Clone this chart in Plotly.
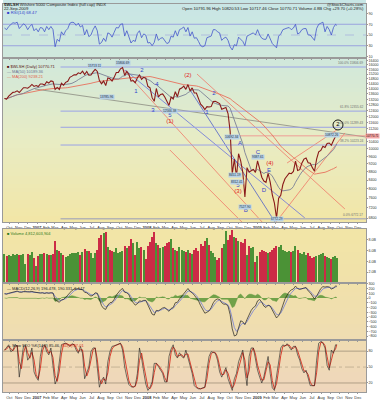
import plotly.graph_objects as go
import pandas as pd
import numpy as np

# ---------------- data (weekly samples) ----------------
week_dates = list(pd.date_range("2006-09-15", "2009-09-18", freq="W-FRI").strftime("%Y-%m-%d")) + ["2009-09-22"]

close = [
    13260, 13210, 13430, 13560, 13720, 13750, 13840, 13710, 13880, 14080, 14080, 14040, 14170, 14340, 14180, 14250,
    14170, 14380, 14380, 14290, 14560, 14450, 14630, 14580, 13940, 14100, 13940, 14430, 14280, 14510, 14600, 14920,
    15020, 15130, 15130, 15300, 15230, 15440, 15150, 15410, 15100, 15110, 15380, 15600, 15420, 14660, 14400, 14610,
    14250, 14870, 14810, 14610, 14920, 15330, 15340, 15650, 15760, 15080, 15430, 15170, 14610, 14660, 14480, 14890,
    15120, 14750, 14920, 14860,
    14190, 14080, 13320, 13050, 14020, 13380, 13560, 13600, 13370, 13000, 12750, 13360, 13220, 13770, 13390, 13970,
    14050, 14210, 13950, 14330, 13830, 14070, 13680, 13670, 13250, 12850, 12690, 12460, 12670, 12640, 12670, 13030,
    13050, 12990, 12890, 12490, 12580, 12610, 12190, 11050, 8700, 9450, 8550, 9740, 9360, 8780, 7650, 9010,
    8800, 8840, 8920, 8770,
    9360, 8950, 8540, 8360, 8300, 8730, 8310, 7740, 7390, 6800, 7600, 7720, 8200, 8470, 8610, 8740,
    8710, 8820, 9340, 8870, 8910, 9240, 9450, 9510, 9260, 9230, 9010, 8830, 9450, 9840, 9920, 10160,
    10090, 10310, 10340, 10210, 10480, 10740, 10770,
]

rsi14 = [
    63, 60, 66, 70, 73, 72, 74, 62, 66, 71, 68, 60, 66, 70, 58, 62,
    56, 64, 63, 56, 66, 60, 66, 60, 28, 42, 38, 56, 50, 58, 62, 72, 74, 73, 68, 72, 65, 68, 50, 60, 47, 50,
    60, 67, 58, 33, 36, 44, 38, 54, 52, 46, 55, 64, 63, 70, 71, 48, 58, 48, 35, 40, 38, 53, 58, 45, 52, 50,
    35, 36, 30, 36, 52, 40, 44, 45, 40, 34, 36, 48, 46, 58, 48, 60, 62, 65, 56, 64, 48, 56, 44, 45, 38, 30,
    28, 30, 45, 46, 48, 60, 60, 56, 54, 40, 44, 46, 40, 28, 22, 32, 30, 46, 42, 38, 30, 48, 50, 52, 54, 50,
    60, 50, 44, 42, 42, 52, 44, 34, 30, 26, 48, 52, 60, 62, 63, 64, 60, 63, 70, 52, 54, 60, 62, 62, 50, 50,
    44, 40, 62, 70, 72, 74, 56, 66, 60, 50, 64, 70, 68,
]

volume_b = [
    5.4, 5.0, 5.2, 5.0, 5.3, 5.1, 5.4, 5.2, 5.1, 5.3, 3.6, 5.4, 5.2, 5.8, 4.6, 3.2,
    5.0, 5.4, 5.3, 5.5, 5.4, 5.2, 5.1, 5.3, 7.8, 6.2, 6.0, 5.5, 5.2, 4.8, 5.0, 5.4, 5.6, 5.5, 5.6, 5.7, 5.2,
    5.8, 6.3, 6.0, 5.9, 5.6, 4.6, 5.6, 6.2, 8.4, 8.8, 9.2, 9.4, 6.6, 6.2, 6.0, 5.8, 6.4, 5.6, 5.8, 6.0, 6.8,
    6.4, 6.8, 8.2, 7.4, 5.2, 7.6, 6.4, 6.6, 6.2, 4.4,
    6.8, 7.6, 8.6, 9.4, 7.4, 7.0, 6.4, 6.6, 6.8, 7.4, 7.6, 8.2, 6.4, 6.2, 6.0, 6.6, 6.2, 6.0, 5.8, 6.2, 5.6,
    5.4, 6.2, 6.4, 6.0, 7.2, 6.8, 7.8, 8.4, 7.0, 6.0, 5.6, 4.8, 4.2, 4.6, 6.4, 7.2, 9.6, 8.0, 8.8, 9.8, 8.6,
    8.4, 7.8, 7.6, 7.4, 8.2, 5.2, 6.8, 6.4, 6.6, 3.8,
    5.0, 5.8, 6.2, 6.0, 5.8, 5.6, 5.8, 6.2, 6.4, 6.8, 6.6, 7.0, 6.2, 6.0, 5.8, 6.0, 5.8, 6.0, 6.8, 6.2, 5.6,
    5.4, 5.8, 5.2, 5.6, 5.0, 4.6, 4.8, 5.0, 5.2, 5.4, 5.6, 5.0, 4.8, 4.6, 4.4, 4.8, 5.0, 4.6,
]

macd_line = [
    90, 80, 100, 115, 130, 140, 145, 125, 120, 135, 140, 130, 130, 140, 125, 120,
    100, 105, 110, 95, 110, 100, 110, 105, -40, -70, -90, -40, -30, 10, 50, 110, 160, 190, 190, 200, 180,
    175, 120, 110, 70, 40, 60, 110, 100, -30, -160, -220, -240, -150, -100, -90, -30, 60, 120, 170, 200, 120,
    110, 70, -40, -100, -150, -120, -60, -70, -50, -50,
    -160, -230, -340, -360, -260, -270, -240, -210, -200, -250, -280, -220, -200, -100, -90, -20, 40, 100, 150,
    200, 140, 110, 60, 10, -60, -160, -240, -320, -300, -270, -200, -100, -40, -20, -30, -100, -130, -130, -170,
    -350, -650, -800, -780, -600, -480, -500, -560, -450, -340, -260, -200, -170,
    -60, -30, -90, -170, -200, -150, -170, -260, -330, -420, -370, -280, -150, -20, 60, 130, 170, 190, 250, 200,
    180, 200, 210, 220, 150, 110, 40, -20, 40, 130, 200, 240, 230, 240, 230, 190, 210, 250, 250,
]

stoch_k = [
    82, 86, 92, 79, 82, 92, 90, 31, 63, 89, 91, 63, 70, 86, 41, 31,
    25, 70, 90, 92, 79, 73, 86, 50, 18, 28, 57, 92, 94, 95, 92, 89, 94, 92, 82, 76, 89, 76, 28, 38, 50, 79,
    86, 86, 44, 12, 25, 31, 18, 60, 79, 89, 90, 92, 94, 95, 82, 50, 31, 17, 13, 12, 15, 38, 86, 67, 41, 18,
    6, 12, 22, 57, 57, 50, 45, 38, 22, 22, 70, 84, 92, 73, 67, 77, 70, 67, 82, 67, 50, 38, 15, 11, 9, 9,
    11, 12, 44, 70, 79, 78, 76, 63, 41, 31, 41, 49, 28, 15, 6, 28, 38, 60, 73, 82, 44, 15, 70, 86, 86, 63,
    44, 31, 20, 32, 50, 70, 38, 11, 6, 31, 57, 86, 92, 89, 94, 89, 82, 89, 89, 73, 63, 47, 39, 44, 28, 15,
    15, 15, 63, 95, 98, 95, 86, 53, 44, 82, 76, 92, 92,
]

fib_names = ["100.0%", "61.8%", "50.0%", "38.2%", "0.0%"]
fib_values = [15806.69, 12355.62, 11289.43, 10223.24, 6772.17]
fib_start = "2007-03-20"

month_ticks = list(pd.date_range("2006-10-01", "2009-12-01", freq="MS").strftime("%Y-%m-%d"))
month_labels = ["Oct", "Nov", "Dec",
                "<b>2007</b>", "Feb", "Mar", "Apr", "May", "Jun", "Jul", "Aug", "Sep", "Oct", "Nov", "Dec",
                "<b>2008</b>", "Feb", "Mar", "Apr", "May", "Jun", "Jul", "Aug", "Sep", "Oct", "Nov", "Dec",
                "<b>2009</b>", "Feb", "Mar", "Apr", "May", "Jun", "Jul", "Aug", "Sep", "Oct", "Nov", "Dec"]
price_ticks = [6800, 7200, 7600, 8000, 8400, 8800, 9200, 9600, 10000, 10400, 11200, 11600, 12000,
               12400, 12800, 13200, 13600, 14000, 14400, 14800, 15200, 15600, 16000, 16400]

# trend lines: start date, start price, end date, end price, colour
trend_lines = [
    ("2006-12-25", 13980, "2009-12-28", 10693, "#8a8a80"),
    ("2007-10-13", 15630, "2009-01-17", 6652, "#f07868"),
    ("2008-06-15", 15200, "2009-10-19", 7152, "#f07868"),
    ("2008-03-17", 9943, "2008-11-21", 6540, "#f07868"),
    ("2007-10-20", 15543, "2009-06-08", 6802, "#6a72dc"),
    ("2008-05-23", 13903, "2009-03-01", 6652, "#4f5fc8"),
    ("2009-03-01", 6600, "2009-10-19", 10935, "#f07868"),
    ("2009-04-10", 9247, "2009-09-22", 11120, "#f07868"),
]

# Elliott wave labels
wave_text = ["1", "2", "3", "4", "5", "1", "2", "5", "A", "B", "C", "D", "E",
             "(1)", "(2)", "(3)", "(4)", "(5)"]
wave_dates = ["2007-11-25", "2007-12-15", "2008-01-21", "2008-02-03", "2008-03-17", "2008-07-18", "2008-08-10",
              "2008-10-29", "2008-11-05", "2008-11-24", "2009-01-03", "2009-01-23", "2009-02-09",
              "2008-03-17", "2008-05-16", "2008-10-29", "2009-02-12", "2009-03-11"]
wave_prices = [13750, 15543, 12430, 14300, 12090, 12290, 13600, 8134, 10340, 7073, 9833, 7911, 8892,
               11630, 15115, 7866, 9196, 6520]
wave_colors = ["#3344cc"] * 13 + ["#e02020"] * 5

circled_text = ["1", "2"]
circled_dates = ["2009-03-21", "2009-09-26"]
circled_prices = [6116, 11437]

box_text = ["15713.11", "15806.69", "13785.96", "12566.38", "10692.34", "8451.19", "8312.41",
            "9387.61", "7527.90", "6772.29", "10872.26"]
box_dates = ["2007-07-12", "2007-10-13", "2007-08-21", "2008-03-17", "2008-10-09", "2008-10-19", "2008-10-26",
             "2009-01-03", "2008-11-21", "2009-03-07", "2009-09-05"]
box_prices = [15894, 16165, 13370, 12360, 10693, 8640, 8310, 9562, 7235, 6750, 10800]

# ---------------- derived ----------------
s_close = pd.Series(close)
ma50 = s_close.rolling(10, min_periods=1).mean()
ma200 = s_close.rolling(40, min_periods=1).mean()
s_macd = pd.Series(macd_line)
macd_signal = s_macd.ewm(span=3, adjust=False).mean()
macd_hist = s_macd - macd_signal
stoch_d = pd.Series(stoch_k).rolling(2, min_periods=1).mean()
vol_colors = ["#3a8a2a"] + ["#3a8a2a" if close[i] >= close[i - 1] else "#c8183c" for i in range(1, len(close))]

W, H = 380, 400
XL, XR = 3, 366


def py(p):
    return 1 - p / H


dom = {
    "rsi": [py(58), py(4)],
    "main": [py(222), py(58)],
    "vol": [py(283), py(229)],
    "macd": [py(340), py(283)],
    "sto": [py(392), py(340)],
}
xdom = [XL / W, XR / W]
xrange_ = ["2006-09-10", "2009-12-28"]
FONT = "Liberation Sans, Arial, sans-serif"

fig = go.Figure()

# RSI
fig.add_trace(go.Scatter(x=week_dates, y=rsi14, mode="lines", line=dict(color="#4455cc", width=0.8),
                         xaxis="x", yaxis="y"))

# main panel
for (d0, p0, d1, p1, c) in trend_lines:
    fig.add_trace(go.Scatter(x=[d0, d1], y=[p0, p1], mode="lines", line=dict(color=c, width=0.8),
                             xaxis="x2", yaxis="y2"))
for name, v in zip(fib_names, fib_values):
    col = "#b4b4b4" if name == "0.0%" else "#9aa2e6"
    fig.add_trace(go.Scatter(x=[fib_start, xrange_[1]], y=[v, v], mode="lines",
                             line=dict(color=col, width=1.3 if name == "0.0%" else 1.0),
                             xaxis="x2", yaxis="y2"))
fig.add_trace(go.Scatter(x=["2008-10-20", xrange_[1]], y=[close[-1], close[-1]], mode="lines",
                         line=dict(color="rgba(240,140,140,0.55)", width=1.6), xaxis="x2", yaxis="y2"))
fig.add_trace(go.Scatter(x=week_dates, y=ma200, mode="lines", line=dict(color="#e8705c", width=0.9),
                         xaxis="x2", yaxis="y2"))
fig.add_trace(go.Scatter(x=week_dates, y=ma50, mode="lines", line=dict(color="#7a8096", width=0.9),
                         xaxis="x2", yaxis="y2"))
fig.add_trace(go.Scatter(x=week_dates, y=close, mode="lines", line=dict(color="#8a1a1a", width=1.1),
                         xaxis="x2", yaxis="y2"))
fig.add_trace(go.Scatter(x=wave_dates, y=wave_prices, mode="text", text=wave_text,
                         textfont=dict(color=wave_colors, size=6, family=FONT), cliponaxis=False,
                         xaxis="x2", yaxis="y2"))
fig.add_trace(go.Scatter(x=circled_dates, y=circled_prices, mode="markers+text", text=circled_text,
                         marker=dict(symbol="circle-open", size=10, color="black", line=dict(width=0.9)),
                         textfont=dict(color="black", size=6, family=FONT), textposition="middle center",
                         cliponaxis=False, xaxis="x2", yaxis="y2"))

# volume
fig.add_trace(go.Bar(x=week_dates, y=volume_b, marker=dict(color=vol_colors, line=dict(width=0)),
                     opacity=0.9, xaxis="x3", yaxis="y3"))

# MACD
fig.add_trace(go.Scatter(x=week_dates, y=macd_hist, mode="lines", fill="tozeroy",
                         line=dict(color="#4f8f30", width=0.4), fillcolor="rgba(90,150,55,0.85)",
                         xaxis="x4", yaxis="y4"))
fig.add_trace(go.Scatter(x=week_dates, y=macd_signal, mode="lines", line=dict(color="#8088d0", width=0.9),
                         xaxis="x4", yaxis="y4"))
fig.add_trace(go.Scatter(x=week_dates, y=macd_line, mode="lines", line=dict(color="#202020", width=0.7),
                         xaxis="x4", yaxis="y4"))

# Slow stochastic
fig.add_trace(go.Scatter(x=week_dates, y=stoch_d, mode="lines", line=dict(color="#d83020", width=0.9),
                         xaxis="x5", yaxis="y5"))
fig.add_trace(go.Scatter(x=week_dates, y=stoch_k, mode="lines", line=dict(color="#202020", width=0.6),
                         xaxis="x5", yaxis="y5"))

# ---------------- background gradient ----------------
stops = [(0, (200, 230, 230)), (58, (208, 232, 220)), (140, (232, 236, 196)), (222, (242, 230, 166)),
         (283, (241, 225, 170)), (340, (239, 220, 178)), (392, (239, 214, 188))]


def col_at(y):
    for (y0, c0), (y1, c1) in zip(stops[:-1], stops[1:]):
        if y0 <= y <= y1:
            t = (y - y0) / (y1 - y0)
            return "rgb(%d,%d,%d)" % tuple(int(round(a + (b - a) * t)) for a, b in zip(c0, c1))
    return "rgb(%d,%d,%d)" % stops[-1][1]


shapes = []
for y in range(0, 392, 4):
    shapes.append(dict(type="rect", xref="paper", yref="paper", x0=xdom[0], x1=xdom[1],
                       y0=py(y + 4), y1=py(y), fillcolor=col_at(y + 2), line=dict(width=0), layer="below"))
for (a, b) in [(222, 229), (392, 400)]:
    shapes.append(dict(type="rect", xref="paper", yref="paper", x0=0, x1=1, y0=py(b), y1=py(a),
                       fillcolor="white", line=dict(width=0), layer="below"))

# reference lines
for v, dash, w in [(70, "solid", 1.1), (30, "solid", 1.1), (50, "dash", 0.6)]:
    shapes.append(dict(type="line", xref="x domain", yref="y", x0=0, x1=1, y0=v, y1=v,
                       line=dict(color="#9aa2de", width=w, dash=dash), layer="below"))
for v, dash, w in [(80, "solid", 0.9), (20, "solid", 0.9), (50, "dashdot", 0.6)]:
    shapes.append(dict(type="line", xref="x5 domain", yref="y5", x0=0, x1=1, y0=v, y1=v,
                       line=dict(color="#a89880", width=w, dash=dash), layer="below"))

# ---------------- annotations ----------------
ann = []
small = dict(family=FONT, size=4.2, color="#222")
ann.append(dict(xref="paper", yref="paper", x=2 / W, y=py(0.5), xanchor="left", yanchor="top", showarrow=False,
                text="<b>$WLSH</b> Wilshire 5000 Composite Index (full cap) INDX", font=small))
ann.append(dict(xref="paper", yref="paper", x=2 / W, y=py(4.5), xanchor="left", yanchor="top", showarrow=False,
                text="22-Sep-2009", font=small))
ann.append(dict(xref="paper", yref="paper", x=XR / W, y=py(0.5), xanchor="right", yanchor="top", showarrow=False,
                text="@StockCharts.com", font=small))
ann.append(dict(xref="paper", yref="paper", x=XR / W, y=py(4.5), xanchor="right", yanchor="top", showarrow=False,
                text="Open 10791.96 High 10820.53 Low 10717.46 Close 10770.71 Volume 4.8B Chg +29.70 (+0.28%)",
                font=small))
ann.append(dict(xref="paper", yref="paper", x=5 / W, y=py(8), xanchor="left", yanchor="top", showarrow=False,
                text="■ RSI(14) 68.47", font=dict(family=FONT, size=4.2, color="#3344cc")))
ann.append(dict(xref="paper", yref="paper", x=5 / W, y=py(62), xanchor="left", yanchor="top", showarrow=False,
                text="■ $WLSH (Daily) 10770.71<br><span style='color:#6a7090'>— MA(50) 10189.36</span>"
                     "<br><span style='color:#e0604c'>— MA(200) 9238.21</span>",
                font=dict(family=FONT, size=4.0, color="#551010"), align="left"))
ann.append(dict(xref="paper", yref="paper", x=5 / W, y=py(229), xanchor="left", yanchor="top", showarrow=False,
                text="■ Volume 4,812,603,904", font=dict(family=FONT, size=4.0, color="#2a7a1a")))
ann.append(dict(xref="paper", yref="paper", x=5 / W, y=py(283.5), xanchor="left", yanchor="top", showarrow=False,
                text="— MACD(12,26,9) 196.478, 190.331, 6.147", font=dict(family=FONT, size=4.0, color="#222")))
ann.append(dict(xref="paper", yref="paper", x=5 / W, y=py(340.5), xanchor="left", yanchor="top", showarrow=False,
                text="— Slow STO %K(14,3) 85.46, <span style='color:#d83020'>%D(3) 87.01</span>",
                font=dict(family=FONT, size=4.0, color="#222")))

for name, v in zip(fib_names, fib_values):
    ann.append(dict(xref="x2 domain", yref="y2", x=0.997, y=np.log10(v), xanchor="right", yanchor="bottom",
                    showarrow=False, text="%s %.2f" % (name, v), font=dict(family=FONT, size=3.2, color="#707070")))

for t, d, p in zip(box_text, box_dates, box_prices):
    ann.append(dict(xref="x2", yref="y2", x=d, y=np.log10(p), showarrow=False, text=t,
                    font=dict(family=FONT, size=3.2, color="#203040"), bgcolor="#b8d2e6", borderpad=0))

ann.append(dict(xref="paper", yref="y2", x=1.0, y=np.log10(close[-1]), xanchor="right", showarrow=False,
                text="10770.71", font=dict(family=FONT, size=3.0, color="#300"), bgcolor="#f4a8a8", borderpad=0))

fig.update_layout(
    width=W, height=H, margin=dict(l=0, r=0, t=0, b=0), template="none",
    paper_bgcolor="white", plot_bgcolor="rgba(0,0,0,0)", showlegend=False, bargap=0,
    shapes=shapes, annotations=ann, font=dict(family=FONT, size=4.5, color="#333"),
)

axis_common = dict(showgrid=False, zeroline=False, showline=True, mirror=True, linecolor="#9a9a9a",
                   linewidth=0.6, automargin=False)
xcommon = dict(axis_common, type="date", range=xrange_, domain=xdom, tickvals=month_ticks, ticktext=month_labels,
               tickfont=dict(family=FONT, size=4.0, color="#333"), ticks="outside", ticklen=1.5, tickwidth=0.5,
               tickcolor="#999", tickangle=0)
ycommon = dict(axis_common, side="right", tickfont=dict(family=FONT, size=3.6, color="#333"), ticks="outside",
               ticklen=1, tickwidth=0.5, tickcolor="#999")

fig.update_layout(
    xaxis=dict(xcommon, anchor="y", showticklabels=False),
    xaxis2=dict(xcommon, anchor="y2", matches="x", showticklabels=True),
    xaxis3=dict(xcommon, anchor="y3", matches="x", showticklabels=False),
    xaxis4=dict(xcommon, anchor="y4", matches="x", showticklabels=False),
    xaxis5=dict(xcommon, anchor="y5", matches="x", showticklabels=True),
    yaxis=dict(ycommon, anchor="x", domain=dom["rsi"], range=[7, 108], tickvals=[10, 30, 50, 70, 90]),
    yaxis2=dict(ycommon, anchor="x2", domain=dom["main"], type="log", range=[3.8229, 4.2207],
                tickvals=price_ticks, ticktext=[str(v) for v in price_ticks]),
    yaxis3=dict(ycommon, anchor="x3", domain=dom["vol"], range=[0, 10], tickvals=[2, 4, 6, 8],
                ticktext=["2.0B", "4.0B", "6.0B", "8.0B"]),
    yaxis4=dict(ycommon, anchor="x4", domain=dom["macd"], range=[-884, 316],
                tickvals=list(range(-800, 301, 100))),
    yaxis5=dict(ycommon, anchor="x5", domain=dom["sto"], range=[3, 101], tickvals=[20, 50, 80]),
)

fig.write_html("out.html", config={"displayModeBar": False},
               post_script="document.body.style.margin='0';document.body.style.padding='0';")
